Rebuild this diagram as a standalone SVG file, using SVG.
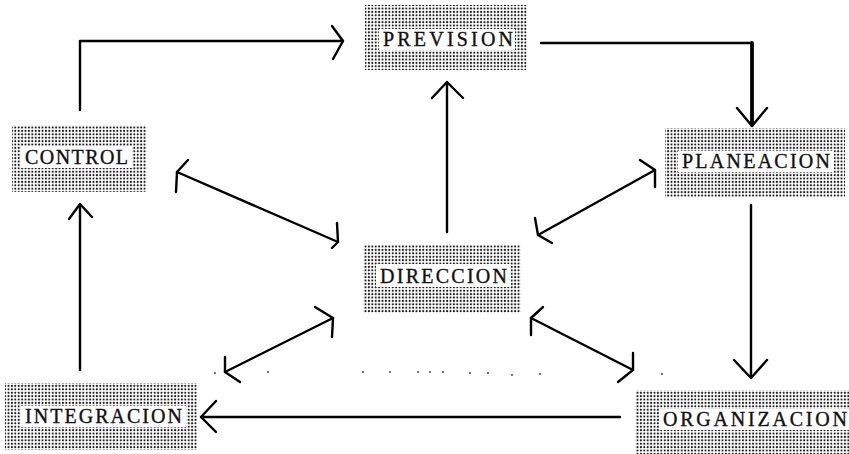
<svg xmlns="http://www.w3.org/2000/svg" width="849" height="454" viewBox="0 0 849 454">
  <defs>
    <!-- halftone screen used for the box fills -->
    <pattern id="screen" patternUnits="userSpaceOnUse" width="3.4" height="3.4">
      <circle cx="1.7" cy="1.7" r="1.05" fill="#1a1a1a"/>
    </pattern>
    <style>
      .box { fill: url(#screen); }
      .band { fill: #ffffff; }
      .label { font-family: "Liberation Serif", "Times New Roman", serif; font-size: 20px; fill: #111111; stroke: #111111; stroke-width: 0.35; }
      .wire { fill: none; stroke: #000000; stroke-width: 2.4; stroke-linecap: round; stroke-linejoin: round; }
      .heavy { stroke-width: 3.8; }
      .speck { fill: #333333; }
    </style>
  </defs>

  <rect width="849" height="454" fill="#ffffff"/>

  <!-- nodes -->
  <g id="prevision">
    <rect class="box" x="365" y="5" width="162" height="65"/>
    <rect class="band" x="379" y="29" width="136" height="21"/>
    <text class="label" x="383" y="46" textLength="130" lengthAdjust="spacing">PREVISION</text>
  </g>

  <g id="control">
    <rect class="box" x="12" y="125" width="135" height="67"/>
    <rect class="band" x="21" y="146" width="111" height="22"/>
    <text class="label" x="25" y="164" textLength="103" lengthAdjust="spacing">CONTROL</text>
  </g>

  <g id="planeacion">
    <rect class="box" x="665" y="128" width="180" height="69"/>
    <rect class="band" x="678" y="151" width="156" height="21"/>
    <text class="label" x="682" y="168" textLength="148" lengthAdjust="spacing">PLANEACION</text>
  </g>

  <g id="direccion">
    <rect class="box" x="363" y="245" width="158" height="68"/>
    <rect class="band" x="376" y="264" width="135" height="23"/>
    <text class="label" x="380" y="283" textLength="127" lengthAdjust="spacing">DIRECCION</text>
  </g>

  <g id="integracion">
    <rect class="box" x="5" y="383" width="192" height="67"/>
    <rect class="band" x="21" y="406" width="165" height="21"/>
    <text class="label" x="25" y="423" textLength="157" lengthAdjust="spacing">INTEGRACION</text>
  </g>

  <g id="organizacion">
    <rect class="box" x="635" y="390" width="214" height="64"/>
    <rect class="band" x="659" y="409" width="190" height="21"/>
    <text class="label" x="663" y="426" textLength="184" lengthAdjust="spacing">ORGANIZACION</text>
  </g>

  <!-- connectors -->
  <g id="connectors">
    <!-- control to prevision -->
    <path class="wire" d="M80,110 V41 H343"/>
    <path class="wire" d="M332,26 L343,41 L333,59"/>

    <!-- prevision to planeacion -->
    <path class="wire" d="M541,43 H752"/>
    <path class="wire heavy" d="M752,43 V125"/>
    <path class="wire" d="M737,108 L752,126 L767,108"/>

    <!-- planeacion to organizacion -->
    <path class="wire" d="M751,205 V377"/>
    <path class="wire" d="M734,360 L751,378 L767,360"/>

    <!-- organizacion to integracion -->
    <path class="wire" d="M620,417 H201"/>
    <path class="wire" d="M216,401 L201,417 L216,432"/>

    <!-- integracion to control -->
    <path class="wire" d="M80,370 V205"/>
    <path class="wire" d="M69,219 L80,204 L92,217"/>

    <!-- direccion to prevision -->
    <path class="wire" d="M447,232 V83"/>
    <path class="wire" d="M432,98 L447,82 L463,98"/>

    <!-- control and direccion, both ways -->
    <path class="wire" d="M177,172 L338,242"/>
    <path class="wire" d="M188,160 L177,172 L176,192"/>
    <path class="wire" d="M337,223 L338,242 L332,248"/>

    <!-- direccion and planeacion, both ways -->
    <path class="wire" d="M538,235 L655,170"/>
    <path class="wire" d="M640,160 L655,170 L655,187"/>
    <path class="wire" d="M535,218 L538,235 L552,243"/>

    <!-- direccion and integracion, both ways -->
    <path class="wire" d="M225,372 L333,318"/>
    <path class="wire" d="M315,307 L333,318 L332,337"/>
    <path class="wire" d="M225,357 L225,372 L240,382"/>

    <!-- direccion and organizacion, both ways -->
    <path class="wire" d="M531,318 L633,370"/>
    <path class="wire" d="M543,307 L531,318 L531,335"/>
    <path class="wire" d="M633,353 L633,370 L618,382"/>
  </g>

  <!-- faint dotted row between the lower arrows -->
  <g id="dots">
    <circle class="speck" cx="215" cy="373" r="0.9"/>
    <circle class="speck" cx="268" cy="372" r="0.9"/>
    <circle class="speck" cx="363" cy="372" r="0.9"/>
    <circle class="speck" cx="390" cy="372" r="0.9"/>
    <circle class="speck" cx="418" cy="372" r="0.9"/>
    <circle class="speck" cx="430" cy="372" r="0.9"/>
    <circle class="speck" cx="443" cy="372" r="0.9"/>
    <circle class="speck" cx="470" cy="373" r="0.9"/>
    <circle class="speck" cx="488" cy="373" r="0.9"/>
    <circle class="speck" cx="512" cy="375" r="0.9"/>
    <circle class="speck" cx="540" cy="374" r="0.9"/>
    <circle class="speck" cx="662" cy="374" r="0.9"/>
  </g>
</svg>
